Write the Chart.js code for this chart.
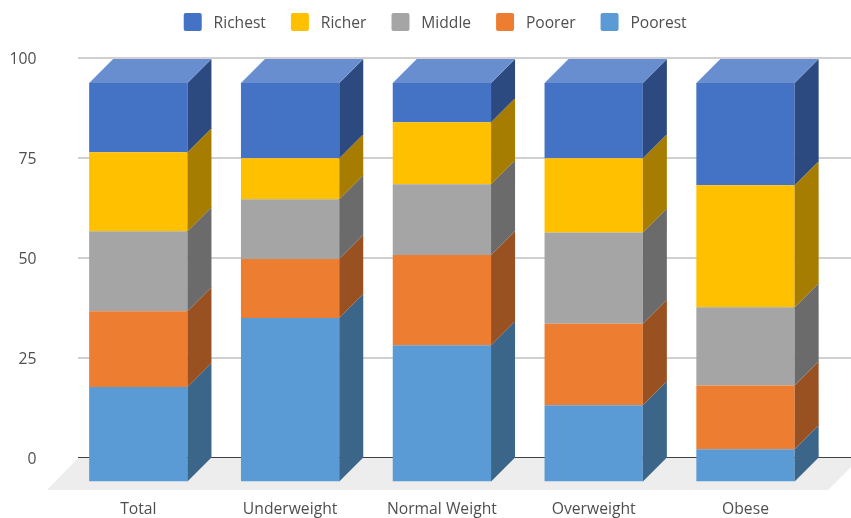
<!DOCTYPE html>
<html>
<head>
<meta charset="utf-8">
<style>html,body{margin:0;padding:0;background:#fff}canvas{display:block}</style>
<script src="https://cdn.jsdelivr.net/npm/chart.js@4"></script>
</head>
<body>
<canvas id="c" width="851" height="518"></canvas>
<script>
const categories = ['Total', 'Underweight', 'Normal Weight', 'Overweight', 'Obese'];
const poorest = [23.7, 41.0, 34.2, 19.1, 8.1];
const poorer  = [19.0, 14.8, 22.6, 20.5, 16.0];
const middle  = [20.1, 15.0, 17.8, 22.9, 19.6];
const richer  = [19.8, 10.3, 15.5, 18.6, 30.6];
const richest = [17.4, 18.9, 9.9, 18.9, 25.7];
const yTicks = [0, 25, 50, 75, 100];

const FONT = '"Open Sans"';
const TEXT = '#4F4F4F';
const DEPTH = 24;
const sideColors = ['#3B6589', '#9A5122', '#6B6B6B', '#A67D00', '#2C4A80'];
const topColor = '#698ED0';

const threeD = {
  id: 'threeD',
  beforeDatasetsDraw(chart) {
    const ctx = chart.ctx, y = chart.scales.y;
    const zero = y.getPixelForValue(0);
    ctx.save();
    ctx.fillStyle = '#EDEDED';
    ctx.beginPath();
    ctx.moveTo(78, zero); ctx.lineTo(860, zero); ctx.lineTo(828, 490); ctx.lineTo(47, 490);
    ctx.closePath(); ctx.fill();
    yTicks.forEach(v => {
      const p = Math.round(y.getPixelForValue(v));
      ctx.fillStyle = v === 0 ? '#404040' : '#D0D0D0';
      ctx.fillRect(78, p - 1, 773, v === 0 ? 1 : 2);
    });
    ctx.restore();
  },
  afterDatasetsDraw(chart) {
    const ctx = chart.ctx;
    ctx.save();
    chart.data.datasets.forEach((ds, i) => {
      chart.getDatasetMeta(i).data.forEach(el => {
        const r = el.x + el.width / 2;
        ctx.fillStyle = sideColors[i];
        ctx.beginPath();
        ctx.moveTo(r, el.base); ctx.lineTo(r + DEPTH, el.base - DEPTH);
        ctx.lineTo(r + DEPTH, el.y - DEPTH); ctx.lineTo(r, el.y);
        ctx.closePath(); ctx.fill();
      });
    });
    const last = chart.data.datasets.length - 1;
    chart.getDatasetMeta(last).data.forEach(el => {
      const l = el.x - el.width / 2, r = el.x + el.width / 2;
      ctx.fillStyle = topColor;
      ctx.beginPath();
      ctx.moveTo(l, el.y); ctx.lineTo(r, el.y);
      ctx.lineTo(r + DEPTH, el.y - DEPTH); ctx.lineTo(l + DEPTH, el.y - DEPTH);
      ctx.closePath(); ctx.fill();
    });
    ctx.restore();
  },
  afterLayout(chart) {
    const lg = chart.legend;
    lg.top = -12;
    lg.left += 24.5;
    lg.right += 24.5;
  }
};

const legendFit = {
  id: 'legendFit',
  beforeInit(chart) {
    const lg = chart.legend;
    const fit = lg.fit;
    lg.fit = function () {
      fit.bind(lg)();
      this.height = 58;
    };
    const draw = lg._draw;
    lg._draw = function () {
      const ctx = lg.ctx, ft = ctx.fillText;
      ctx.fillText = function (s, x, y, m) {
        return m === undefined ? ft.call(ctx, s, x, y + 1.5) : ft.call(ctx, s, x, y + 1.5, m);
      };
      draw.call(lg);
      delete ctx.fillText;
    };
  }
};

new Chart(document.getElementById('c'), {
  type: 'bar',
  plugins: [legendFit, threeD],
  data: {
    labels: categories,
    datasets: [
      { label: 'Poorest', data: poorest, backgroundColor: '#5B9BD5' },
      { label: 'Poorer',  data: poorer,  backgroundColor: '#ED7D31' },
      { label: 'Middle',  data: middle,  backgroundColor: '#A5A5A5' },
      { label: 'Richer',  data: richer,  backgroundColor: '#FFC000' },
      { label: 'Richest', data: richest, backgroundColor: '#4472C4' }
    ].map(d => Object.assign(d, {
      yAxisID: 'y2', borderWidth: 0, categoryPercentage: 0.6476, barPercentage: 1
    }))
  },
  options: {
    responsive: false,
    animation: false,
    layout: { padding: { top: 0, right: 29.6, bottom: 0, left: 0 } },
    plugins: {
      tooltip: { enabled: false },
      legend: {
        position: 'top',
        reverse: true,
        labels: {
          boxWidth: 18, boxHeight: 18, padding: 25,
          useBorderRadius: true, borderRadius: 2,
          color: TEXT,
          font: { family: FONT, size: 15.6 },
          generateLabels(chart) {
            return Chart.defaults.plugins.legend.labels.generateLabels(chart)
              .map(it => Object.assign(it, { text: ' ' + it.text, lineWidth: 0 }));
          }
        }
      }
    },
    scales: {
      x: {
        stacked: true,
        grid: { display: false },
        border: { display: false },
        ticks: { color: TEXT, font: { family: FONT, size: 15.7 }, padding: 11, maxRotation: 0, autoSkip: false },
        afterFit(s) { s.height = 36.5; }
      },
      y: {
        min: -5.875, max: 100,
        grid: { display: false },
        border: { display: false },
        ticks: { color: TEXT, font: { family: FONT, size: 15.7 }, padding: 18, labelOffset: 2 },
        afterBuildTicks(s) { s.ticks = yTicks.map(v => ({ value: v })); },
        afterFit(s) { s.width = 62.4; }
      },
      y2: {
        display: false, stacked: true, min: 0, max: 106.25
      }
    }
  }
});
</script>
</body>
</html>
